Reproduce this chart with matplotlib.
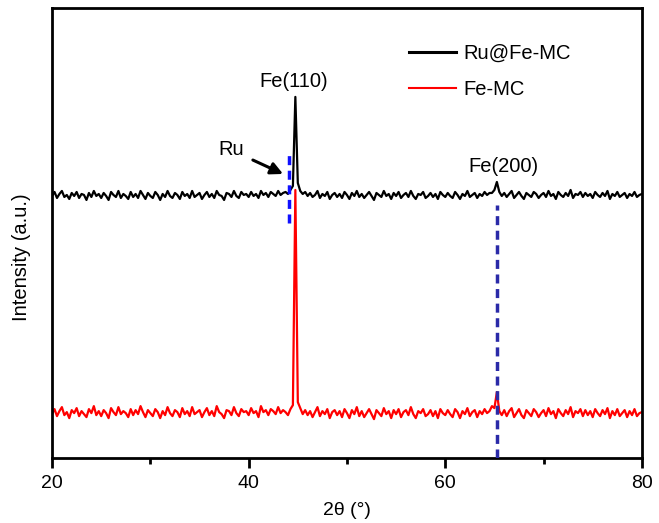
import numpy as np
import matplotlib
matplotlib.use("Agg")
import matplotlib.pyplot as plt

plt.rcParams['font.family'] = ['Liberation Sans', 'DejaVu Sans']

# 2theta sampling, 0.25 deg steps from 20 to 80
two_theta = np.arange(20, 80.001, 0.25)

ru_fe_mc = [
    262, 266, 260, 264, 267, 261, 263, 259, 265, 262, 266, 260, 264, 263, 258, 265, 261, 267, 262, 264,
    260, 265, 262, 258, 266, 263, 261, 267, 260, 264, 262, 259, 266, 261, 264, 260, 267, 263, 259, 265,
    262, 260, 266, 263, 258, 264, 261, 267, 262, 260, 265, 263, 259, 266, 262, 264, 260, 267, 261, 263,
    265, 259, 263, 266, 261, 264, 260, 267, 263, 262, 258, 265, 264, 261, 267, 262, 260, 266, 263, 264,
    261, 266, 262, 264, 260, 267, 263, 265, 261, 266, 264, 262, 267, 263, 265, 266, 264, 268, 272, 361,
    275, 267, 264, 266, 262, 265, 261, 263, 267, 260, 264, 262, 266, 259, 263, 265, 261, 264, 260, 266,
    263, 259, 265, 262, 267, 261, 264, 260, 263, 266, 262, 258, 265, 263, 261, 267, 262, 264, 259, 265,
    262, 266, 260, 263, 265, 261, 267, 262, 259, 264, 263, 266, 260, 262, 265, 261, 264, 259, 266, 263,
    261, 265, 262, 260, 266, 263, 259, 264, 262, 267, 261, 263, 265, 260, 264, 262, 266, 263, 265, 265,
    268, 276, 266, 262, 265, 261, 264, 267, 260, 263, 266, 262, 259, 265, 263, 261, 266, 264, 260, 263,
    265, 261, 267, 262, 264, 259, 266, 263, 261, 265, 262, 268, 260, 264, 263, 266, 261, 265, 262, 264,
    260, 266, 263, 261, 265, 262, 267, 259, 264, 262, 266, 261, 263, 265, 260, 264, 262, 266, 261, 263,
    264,
]

fe_mc = [
    44, 49, 42, 47, 51, 43, 46, 40, 48, 45, 50, 42, 47, 44, 41, 49, 45, 52, 43, 47,
    42, 48, 45, 40, 50, 46, 43, 51, 44, 47, 45, 41, 49, 43, 48, 44, 52, 46, 41, 48,
    45, 42, 49, 46, 40, 47, 43, 51, 45, 42, 48, 46, 41, 50, 44, 47, 42, 51, 44, 46,
    48, 41, 46, 50, 43, 47, 42, 52, 46, 44, 40, 48, 47, 43, 51, 45, 42, 49, 46, 47,
    43, 50, 45, 47, 41, 52, 46, 48, 43, 49, 47, 44, 51, 45, 48, 46, 43, 49, 53, 268,
    56, 50, 44, 48, 43, 47, 41, 46, 51, 42, 47, 44, 49, 40, 46, 48, 43, 47, 41, 49,
    45, 40, 48, 44, 51, 42, 47, 41, 45, 49, 44, 39, 48, 45, 42, 50, 44, 47, 40, 48,
    44, 49, 41, 46, 48, 43, 51, 44, 40, 47, 45, 49, 42, 44, 48, 42, 47, 40, 49, 45,
    43, 48, 44, 41, 49, 46, 40, 47, 44, 50, 42, 46, 48, 41, 47, 44, 49, 45, 47, 52,
    50, 66, 47, 43, 48, 42, 47, 50, 41, 45, 49, 43, 40, 48, 45, 42, 49, 46, 41, 45,
    48, 42, 50, 44, 47, 40, 49, 45, 42, 48, 44, 51, 41, 47, 45, 49, 42, 48, 43, 47,
    41, 49, 45, 42, 48, 44, 50, 40, 47, 43, 49, 42, 45, 48, 41, 47, 43, 49, 42, 45,
    46,
]

ru_pos = 44.1
fe200_pos = 65.25

fig = plt.figure(figsize=(6.59, 5.23), dpi=100)
ax = fig.add_axes([0.079, 0.124, 0.895, 0.861])

ax.plot(two_theta, fe_mc, color='#ff0000', lw=1.6, label='Fe-MC', zorder=2)
ax.plot(two_theta, ru_fe_mc, color='black', lw=1.6, label='Ru@Fe-MC', zorder=3)

ax.plot([ru_pos, ru_pos], [235, 305], color='#1010ff', lw=2.5,
        dashes=(2.6, 1.6), zorder=4)
ax.plot([fe200_pos, fe200_pos], [0, 253], color='#2a2aa8', lw=2.5,
        dashes=(2.6, 1.6), zorder=4)

ax.text(44.6, 367, 'Fe(110)', ha='center', va='bottom', fontsize=14.5)
ax.text(65.9, 282, 'Fe(200)', ha='center', va='bottom', fontsize=14.5)
ax.annotate('Ru', xy=(43.5, 284), xytext=(38.2, 308), fontsize=14.5,
            ha='center', va='center',
            arrowprops=dict(arrowstyle='-|>', color='black', lw=2.2,
                            mutation_scale=18, shrinkA=5, shrinkB=0))

ax.set_xlim(20, 80)
ax.set_ylim(0, 450)
ax.set_xticks([20, 40, 60, 80])
ax.set_xticks([30, 50, 70], minor=True)
ax.set_yticks([])
ax.tick_params(axis='x', which='major', direction='out', length=7, width=2,
               labelsize=14, pad=5)
ax.tick_params(axis='x', which='minor', direction='out', length=4, width=2)
for s in ax.spines.values():
    s.set_linewidth(2)

ax.set_xlabel('2θ (°)', fontsize=14, labelpad=7)
ax.set_ylabel('Intensity (a.u.)', fontsize=14.5)
ax.yaxis.set_label_coords(-0.036, 0.447)

handles, labels = ax.get_legend_handles_labels()
leg = ax.legend(handles[::-1], labels[::-1], loc='upper left',
                bbox_to_anchor=(0.575, 0.96), frameon=False, fontsize=14.5,
                handlelength=2.3, labelspacing=0.85, handletextpad=0.4)
leg.get_lines()[0].set_linewidth(2.2)
leg.get_lines()[1].set_linewidth(1.5)

fig.savefig('out.png', dpi=100)
